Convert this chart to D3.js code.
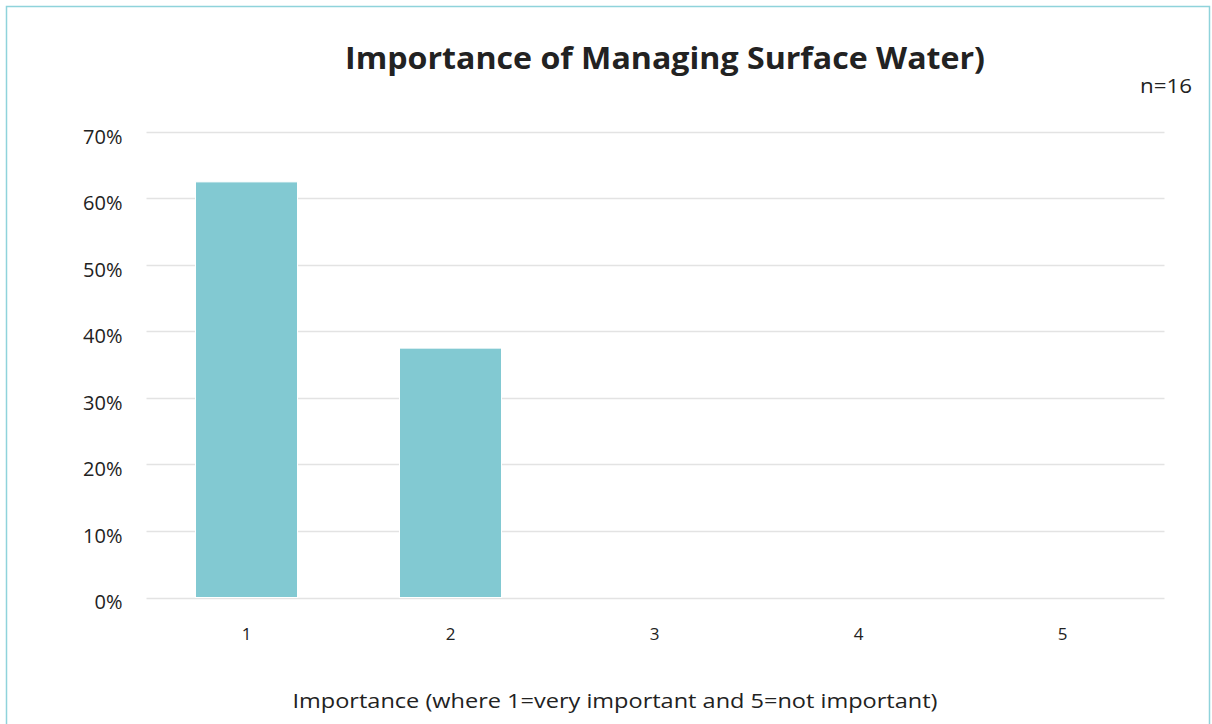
<!DOCTYPE html>
<html>
<head>
<meta charset="utf-8">
<script src="https://cdn.jsdelivr.net/npm/d3@7"></script>
<style>
  html, body { margin: 0; padding: 0; background: #fff; }
  svg { display: block; }
  text { font-family: "Open Sans", "Noto Sans", sans-serif; fill: #222; }
</style>
</head>
<body>
<svg id="chart" width="1212" height="724"></svg>
<script>
// Survey responses: share of respondents per importance rating
const categories = ["1", "2", "3", "4", "5"];
const shares = [0.625, 0.375, 0, 0, 0];
const yTicks = [0, 0.1, 0.2, 0.3, 0.4, 0.5, 0.6, 0.7];
const titleText = "Importance of Managing Surface Water)";
const sampleNote = "n=16";
const xAxisTitle = "Importance (where 1=very important and 5=not important)";

const svg = d3.select("#chart");
const W = 1212, H = 724;

// frame
svg.append("rect")
  .attr("x", 6.5).attr("y", 6.5)
  .attr("width", 1203).attr("height", H + 10)
  .attr("fill", "#fff")
  .attr("stroke", "#8fd3db").attr("stroke-width", 1.5);

const plot = { left: 144.5, right: 1164.5, top: 132, bottom: 597.5 };

const x = d3.scaleBand()
  .domain(categories)
  .range([plot.left, plot.right])
  .paddingInner(0.5).paddingOuter(0.25);

const y = d3.scaleLinear()
  .domain([0, 0.7])
  .range([plot.bottom, plot.top]);

// horizontal gridlines
svg.append("g")
  .selectAll("line")
  .data(yTicks)
  .join("line")
  .attr("x1", plot.left + 2).attr("x2", plot.right)
  .attr("y1", d => Math.round(y(d)) + 0.5)
  .attr("y2", d => Math.round(y(d)) + 0.5)
  .attr("stroke", "#e3e3e3").attr("stroke-width", 1.5);

// y axis labels
const yAxis = d3.axisLeft(y)
  .tickValues(yTicks)
  .tickFormat(d3.format(".0%"))
  .tickSize(0).tickPadding(22);
const yg = svg.append("g")
  .attr("transform", `translate(${plot.left},0)`)
  .call(yAxis);
yg.select(".domain").remove();
yg.selectAll("text")
  .attr("font-size", 20)
  .attr("dy", "0.55em")
  .attr("fill", "#222")
  .style("font-family", "'Open Sans', sans-serif");

// bars
svg.append("g")
  .selectAll("rect")
  .data(categories.map((c, i) => ({ c, v: shares[i] })).filter(d => d.v > 0))
  .join("rect")
  .attr("x", d => x(d.c))
  .attr("width", x.bandwidth())
  .attr("y", d => y(d.v))
  .attr("height", d => y(0) - y(d.v))
  .attr("fill", "#82c9d2")
  .attr("stroke", "#ffffff").attr("stroke-width", 1);

// x axis labels
const xAxis = d3.axisBottom(x).tickSize(0).tickPadding(30);
const xg = svg.append("g")
  .attr("transform", `translate(0,${plot.bottom})`)
  .call(xAxis);
xg.select(".domain").remove();
xg.selectAll("text")
  .attr("font-size", 17)
  .attr("fill", "#222")
  .style("font-family", "'Open Sans', sans-serif");

// title
svg.append("text")
  .attr("x", 665).attr("y", 69)
  .attr("text-anchor", "middle")
  .attr("font-size", 30)
  .attr("font-weight", "bold")
  .attr("textLength", 640)
  .attr("lengthAdjust", "spacingAndGlyphs")
  .text(titleText);

// sample size note
svg.append("text")
  .attr("x", 1192).attr("y", 93)
  .attr("text-anchor", "end")
  .attr("font-size", 20)
  .attr("textLength", 52)
  .attr("lengthAdjust", "spacingAndGlyphs")
  .text(sampleNote);

// x axis title
svg.append("text")
  .attr("x", 615).attr("y", 708)
  .attr("text-anchor", "middle")
  .attr("font-size", 20)
  .attr("textLength", 645)
  .attr("lengthAdjust", "spacingAndGlyphs")
  .text(xAxisTitle);
</script>
</body>
</html>
